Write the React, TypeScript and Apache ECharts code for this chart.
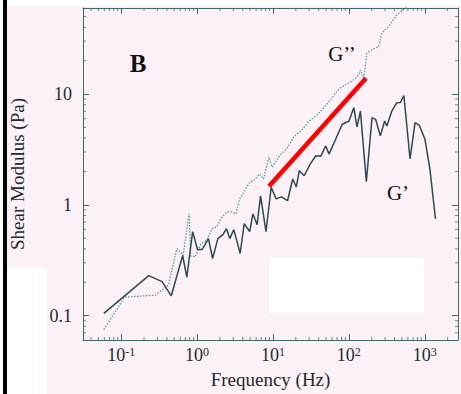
import React, { useEffect, useRef } from 'react';
import * as echarts from 'echarts';

// G' (storage modulus, solid line): frequency (Hz) and value (Pa)
const gPrimeFreq = [0.059, 0.231, 0.346, 0.457, 0.646, 0.733, 0.874, 1.015, 1.162, 1.27, 1.413, 1.604, 1.88, 2.19, 2.44, 2.70, 3.05, 3.70, 4.18, 4.93, 5.44, 6.18, 6.86, 8.10, 9.47, 11.0, 12.9, 15.6, 18.2, 20.3, 22.2, 25.8, 30.9, 36.7, 42.7, 49.6, 54.8, 67.0, 81.7, 100, 116, 128, 142, 170, 202, 225, 260, 296, 317, 368, 428, 478, 531, 640, 745, 848, 1006, 1170, 1384];
const gPrimeVal = [0.105, 0.230, 0.203, 0.151, 0.349, 0.222, 0.573, 0.395, 0.395, 0.438, 0.496, 0.328, 0.496, 0.538, 0.609, 0.496, 0.597, 0.364, 0.676, 0.573, 0.830, 0.662, 1.204, 0.573, 1.441, 1.132, 1.18, 1.093, 1.71, 1.45, 2.03, 1.83, 2.33, 2.77, 2.75, 3.40, 2.87, 3.91, 5.33, 5.67, 7.52, 5.06, 7.01, 1.62, 6.12, 5.91, 4.19, 5.70, 5.14, 7.01, 8.34, 8.4, 9.70, 2.59, 5.52, 5.22, 3.91, 2.10, 0.749];

// G'' (loss modulus, dotted line)
const gDoubleFreq = [0.059, 0.111, 0.282, 0.418, 0.543, 0.656, 0.786, 0.822, 0.942, 1.13, 1.34, 1.57, 1.81, 2.06, 2.44, 2.78, 3.24, 3.65, 4.24, 4.93, 5.73, 6.66, 7.51, 8.81, 9.76, 12.2, 14.9, 16.9, 19.1, 22.2, 25.8, 30.0, 36.7, 44.8, 57.7, 67.0, 81.7, 100, 122, 135, 142, 157, 173, 202, 247, 272, 333, 428, 551, 708];
const gDoubleVal = [0.0749, 0.147, 0.153, 0.188, 0.403, 0.351, 0.831, 0.345, 0.340, 0.447, 0.478, 0.609, 0.631, 0.749, 0.860, 0.865, 0.830, 1.13, 1.34, 1.60, 1.68, 1.90, 1.71, 2.68, 2.18, 2.77, 3.18, 3.60, 4.19, 4.49, 5.01, 5.70, 6.32, 7.26, 8.93, 10.3, 11.7, 12.6, 13.8, 15.0, 16.4, 14.0, 23.4, 25.1, 26.8, 35.4, 40.6, 51.6, 59.3, 70.4];

// red power-law guide line
const slopeFreq = [8.87, 168];
const slopeVal = [1.47, 13.9];

// axis ranges
const xRange = [0.0314, 2742];
const yRange = [0.0603, 59.7];
const decades = [0.01, 0.1, 1, 10, 100, 1000];
const minorMult = [2, 3, 4, 5, 6, 7, 8, 9];

const FONT = '"Liberation Serif", "Times New Roman", serif';
const AXIS_COLOR = '#3f6a6a';
const TEXT_COLOR = '#1c2c2c';

function minorTicks(range: number[]) {
  const out: number[] = [];
  decades.forEach((d) => minorMult.forEach((m) => {
    const v = +(d * m).toPrecision(3);
    if (v > range[0] && v < range[1]) out.push(v);
  }));
  return out;
}

function isPow(v: number) {
  const e = Math.log10(v);
  const r = Math.round(e);
  return Math.abs(e - r) < 1e-6 ? r : null;
}

export default function App() {
  const ref = useRef<HTMLDivElement>(null);
  useEffect(() => {
    if (!ref.current) return;
    const chart = echarts.init(ref.current, null, { renderer: 'svg' });
    const xMinor = minorTicks(xRange);
    const yMinor = minorTicks(yRange);
    const tickSeries = (data: number[][], size: number[], offset: number[]) => ({
      type: 'scatter', data, symbol: 'rect', symbolSize: size, symbolOffset: offset,
      itemStyle: { color: AXIS_COLOR }, silent: true, clip: false, z: 5,
    });
    const baseAxis = {
      type: 'log', logBase: 10,
      axisLine: { show: true, lineStyle: { color: AXIS_COLOR, width: 1 } },
      axisTick: { show: true, inside: true, length: 6, lineStyle: { color: AXIS_COLOR } },
      splitLine: { show: false },
    };
    chart.setOption({
      animation: false,
      backgroundColor: '#ffffff',
      graphic: [
        { type: 'rect', z: -10, shape: { x: 7, y: 6, width: 454, height: 388 }, style: { fill: '#fdf1f8' }, silent: true },
        { type: 'rect', z: -9, shape: { x: 7, y: 268, width: 40, height: 126 }, style: { fill: '#ffffff' }, silent: true },
        { type: 'rect', z: -9, shape: { x: 269, y: 258, width: 155, height: 55 }, style: { fill: '#ffffff' }, silent: true },
        { type: 'rect', z: 10, shape: { x: 3, y: 0, width: 4, height: 394 }, style: { fill: '#000000' }, silent: true },
        { type: 'text', z: 10, x: 138, y: 63, style: { text: 'B', fontFamily: FONT, fontWeight: 'bold', fontSize: 25, fill: '#111', align: 'center', verticalAlign: 'middle' } },
        { type: 'text', z: 10, x: 342, y: 54, style: { text: 'G’’', fontFamily: FONT, fontSize: 21, fill: '#111', align: 'center', verticalAlign: 'middle' } },
        { type: 'text', z: 10, x: 398, y: 193, style: { text: 'G’', fontFamily: FONT, fontSize: 21, fill: '#111', align: 'center', verticalAlign: 'middle' } },
      ],
      grid: { left: 82, right: 1, top: 8, bottom: 52, containLabel: false },
      xAxis: [
        {
          ...baseAxis, position: 'bottom', min: xRange[0], max: xRange[1],
          name: 'Frequency (Hz)', nameLocation: 'middle', nameGap: 30,
          nameTextStyle: { fontFamily: FONT, fontSize: 19, color: TEXT_COLOR },
          axisLabel: {
            margin: 6,
            formatter: (v: number) => { const r = isPow(v); return r === null ? '' : `{b|10}{s|${r}}`; },
            rich: {
              b: { fontFamily: FONT, fontSize: 18, color: TEXT_COLOR },
              s: { fontFamily: FONT, fontSize: 12, color: TEXT_COLOR, verticalAlign: 'top' },
            },
          },
        },
        { ...baseAxis, position: 'top', min: xRange[0], max: xRange[1], axisLabel: { show: false } },
      ],
      yAxis: [
        {
          ...baseAxis, position: 'left', min: yRange[0], max: yRange[1],
          name: 'Shear Modulus (Pa)', nameLocation: 'middle', nameGap: 56,
          nameTextStyle: { fontFamily: FONT, fontSize: 19, color: TEXT_COLOR },
          axisLabel: {
            margin: 11, fontFamily: FONT, fontSize: 18, color: TEXT_COLOR,
            formatter: (v: number) => { const r = isPow(v); return r === null ? '' : String(Math.pow(10, r)); },
          },
        },
        { ...baseAxis, position: 'right', min: yRange[0], max: yRange[1], axisLabel: { show: false } },
      ],
      series: [
        {
          name: "G''", type: 'line', showSymbol: false, symbol: 'none',
          data: gDoubleFreq.map((f, i) => [f, gDoubleVal[i]]),
          lineStyle: { color: '#4f9c9c', width: 1.3, type: [1.5, 1.5] }, z: 3,
        },
        {
          name: "G'", type: 'line', showSymbol: false, symbol: 'none',
          data: gPrimeFreq.map((f, i) => [f, gPrimeVal[i]]),
          lineStyle: { color: '#2c4a50', width: 1.5 }, z: 3,
        },
        {
          name: 'slope', type: 'line', showSymbol: false, symbol: 'none',
          data: slopeFreq.map((f, i) => [f, slopeVal[i]]),
          lineStyle: { color: '#ff0000', width: 4.5 }, z: 4,
        },
        tickSeries(xMinor.map((v) => [v, yRange[0]]), [1, 3], [0, -1.5]),
        tickSeries(xMinor.map((v) => [v, yRange[1]]), [1, 3], [0, 1.5]),
        tickSeries(yMinor.map((v) => [xRange[0], v]), [3, 1], [1.5, 0]),
        tickSeries(yMinor.map((v) => [xRange[1], v]), [3, 1], [-1.5, 0]),
      ],
    });
    return () => chart.dispose();
  }, []);
  return <div ref={ref} style={{ position: 'absolute', left: 0, top: 0, width: 461, height: 394 }} />;
}
